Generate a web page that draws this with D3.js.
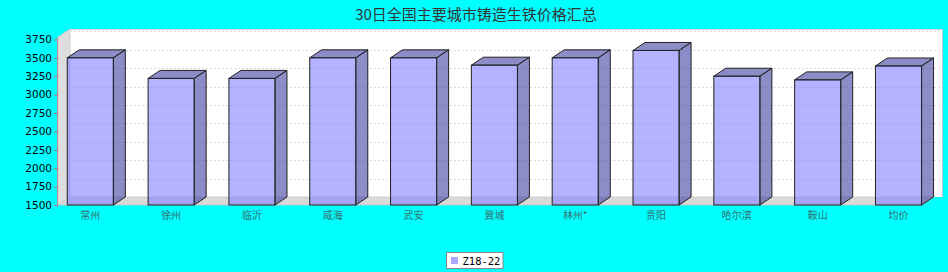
<!DOCTYPE html>
<html><head><meta charset="utf-8">
<script src="https://cdn.jsdelivr.net/npm/d3@7/dist/d3.min.js"></script>
<style>
html,body{margin:0;padding:0;background:#00FFFF;}
svg{display:block;}
</style></head>
<body>
<svg id="chart" width="948" height="272"></svg>
<script>
const title = "30日全国主要城市铸造生铁价格汇总";
const categories = ["常州","徐州","临沂","威海","武安","冀城","林州*","贵阳","哈尔滨","鞍山","均价"];
const seriesName = "Z18-22";
const values = [3500,3220,3220,3500,3500,3400,3500,3600,3250,3200,3389];
const yTicks = [1500,1750,2000,2250,2500,2750,3000,3250,3500,3750];

(function(){
const svg = d3.select("#chart");
const W = 948, H = 272;
const dx = 12, dy = 8;
const pLeft = 58, pBottom = 205, pTop = 37, pRight = 922;

svg.append("rect").attr("width",W).attr("height",H).attr("fill","#00FFFF");

const y = d3.scaleLinear().domain([1500, 3783]).range([pBottom, pTop]);
const x = d3.scaleBand().domain(categories).range([49.9, 938.9]).paddingInner(0.43).paddingOuter(0.215);

// back wall
svg.append("rect").attr("x", pLeft+dx).attr("y", pTop-dy).attr("width", 942-(pLeft+dx)).attr("height", pBottom-pTop)
  .attr("fill","#ffffff");
// left wall
svg.append("polygon").attr("points", [[pLeft,pTop],[pLeft+dx,pTop-dy],[pLeft+dx,pBottom-dy],[pLeft,pBottom]].join(" "))
  .attr("fill","#dedede").attr("stroke","#c8c8c8").attr("stroke-width",0.8);
// floor
svg.append("polygon").attr("points", [[pLeft,pBottom],[pLeft+dx,pBottom-dy],[pRight+dx,pBottom-dy],[pRight,pBottom]].join(" "))
  .attr("fill","#d9d9d9").attr("stroke","#c8c8c8").attr("stroke-width",0.8);

// gridlines on back wall
svg.append("g").selectAll("line").data(yTicks.filter(t=>t>1500)).join("line")
  .attr("x1", pLeft+dx).attr("x2", 942)
  .attr("y1", d=>Math.round(y(d)-dy)+0.5).attr("y2", d=>Math.round(y(d)-dy)+0.5)
  .attr("stroke","#dcdcdc").attr("stroke-dasharray","2,2").attr("stroke-width",1);

// plot border top/right
svg.append("line").attr("x1",pLeft+dx).attr("x2",942.5).attr("y1",pTop-dy+0.5).attr("y2",pTop-dy+0.5).attr("stroke","#d0d0d0");
svg.append("line").attr("x1",942.5).attr("x2",942.5).attr("y1",pTop-dy).attr("y2",pBottom-dy).attr("stroke","#b8c8c8");

// y axis
const yAxis = d3.axisLeft(y).tickValues(yTicks).tickSize(4).tickPadding(2).tickFormat(d3.format("d"));
const ga = svg.append("g").attr("transform",`translate(${pLeft},0)`).call(yAxis);
ga.select(".domain").attr("stroke","#c09090").attr("d",`M-0.5,${pTop}V${pBottom}`);
ga.selectAll(".tick line").attr("stroke","#c07070");
ga.selectAll(".tick text").attr("font-family","'DejaVu Sans', sans-serif").attr("font-size","10.5px").attr("fill","#000");

// bars
const bars = svg.append("g");
const bw = x.bandwidth();
categories.forEach((c,i)=>{
  const x0 = x(c), x1 = x0 + bw, t = y(values[i]);
  const g = bars.append("g");
  g.append("polygon").attr("points", [[x1,t],[x1+dx,t-dy],[x1+dx,pBottom-dy],[x1,pBottom]].join(" "))
    .attr("fill","rgba(64,64,160,0.6)").attr("stroke","#222").attr("stroke-width",1).attr("stroke-linejoin","round");
  g.append("polygon").attr("points", [[x0,t],[x0+dx,t-dy],[x1+dx,t-dy],[x1,t]].join(" "))
    .attr("fill","rgba(64,64,160,0.6)").attr("stroke","#222").attr("stroke-width",1).attr("stroke-linejoin","round");
  g.append("rect").attr("x",x0).attr("y",t).attr("width",bw).attr("height",pBottom-t)
    .attr("fill","rgba(128,128,255,0.6)").attr("stroke","#222").attr("stroke-width",1);
});

// category labels
svg.append("g").selectAll("text").data(categories).join("text")
  .attr("x", d=>x(d)+bw/2).attr("y", 219)
  .attr("text-anchor","middle")
  .attr("font-family","'Noto Sans CJK SC', sans-serif").attr("font-size","10px")
  .attr("fill","#3a7070").text(d=>d);

// title
svg.append("text").attr("x", 476).attr("y", 20).attr("text-anchor","middle")
  .attr("font-family","'Noto Sans CJK SC', sans-serif").attr("font-size","15px")
  .attr("fill","#333").text(title);

// legend
const lg = svg.append("g");
lg.append("rect").attr("x",446.5).attr("y",252.5).attr("width",56.5).attr("height",16)
  .attr("fill","#fff").attr("stroke","#888");
lg.append("rect").attr("x",451).attr("y",257).attr("width",7).attr("height",7).attr("fill","#aaaaff");
lg.append("text").attr("x",462.5).attr("y",264.5)
  .attr("font-family","'DejaVu Sans Mono', monospace").attr("font-size","10.5px").attr("fill","#000").text(seriesName);
})();
</script>
</body></html>
